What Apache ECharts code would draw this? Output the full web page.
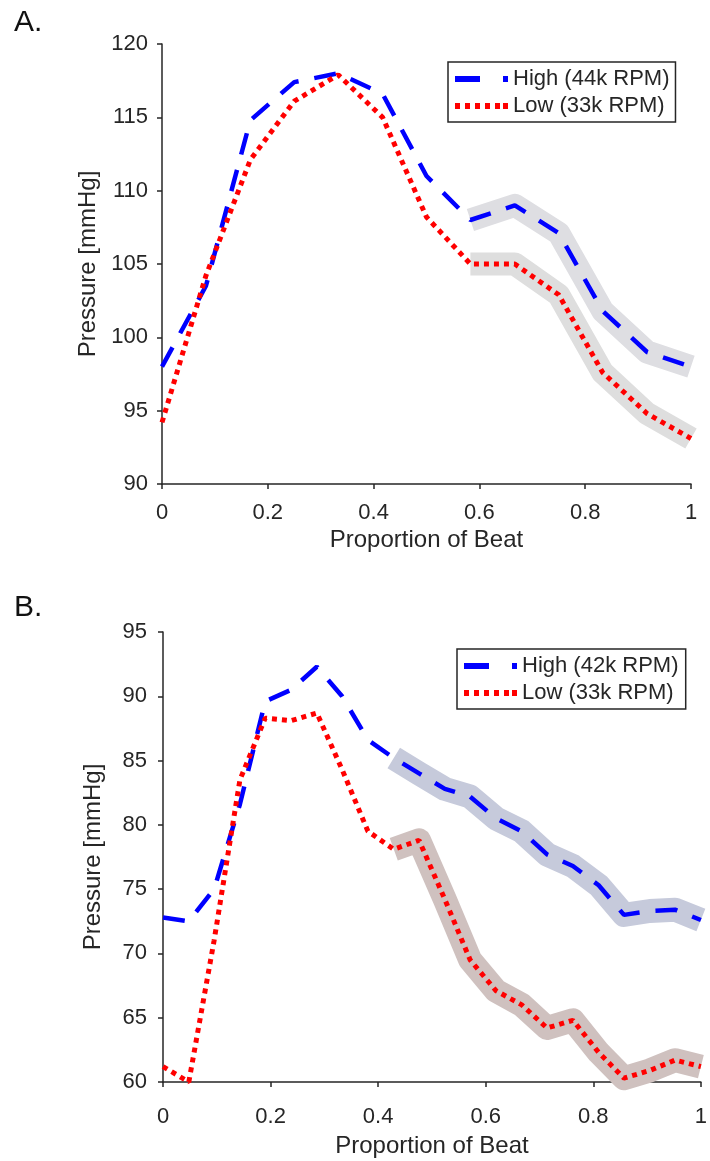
<!DOCTYPE html>
<html>
<head>
<meta charset="utf-8">
<script src="https://cdn.jsdelivr.net/npm/echarts@6/dist/echarts.min.js"></script>
<style>
  html, body { margin: 0; padding: 0; background: #fff; }
  #chart { width: 710px; height: 1161px; }
</style>
</head>
<body>
<div id="chart"></div>
<script>
// panel A: 13 samples over the beat
var beatA = [0, 0.083, 0.167, 0.25, 0.333, 0.417, 0.5, 0.583, 0.667, 0.75, 0.833, 0.917, 1];
var highA = [98.0, 103.5, 114.8, 117.4, 118.0, 116.6, 111.0, 108.0, 109.0, 107.1, 101.8, 99.0, 98.0];
var lowA = [94.2, 104.2, 112.1, 116.1, 117.9, 115.0, 108.2, 105.0, 105.0, 102.9, 97.6, 94.8, 93.1];
var bandStartA = 7;

// panel B: 22 samples over the beat
var beatB = [0, 0.048, 0.095, 0.143, 0.19, 0.238, 0.286, 0.333, 0.381, 0.429, 0.476,
             0.524, 0.571, 0.619, 0.667, 0.714, 0.762, 0.81, 0.857, 0.905, 0.952, 1];
var highB = [72.8, 72.5, 75.0, 81.6, 89.6, 90.5, 92.3, 90.0, 86.6, 85.2, 84.0,
             82.8, 82.2, 80.5, 79.5, 77.7, 76.8, 75.3, 73.0, 73.3, 73.4, 72.6];
var lowB = [61.2, 60.0, 71.0, 83.5, 88.3, 88.1, 88.7, 84.3, 79.5, 78.1, 78.8,
            74.2, 69.5, 67.1, 66.0, 64.2, 64.8, 62.3, 60.3, 60.9, 61.7, 61.2];
var bandStartB = 9;

var xTicks = [0, 0.2, 0.4, 0.6, 0.8, 1];

function pairs(xs, ys, from) {
    var out = [];
    for (var i = from || 0; i < xs.length; i++) {
        out.push([xs[i], ys[i]]);
    }
    return out;
}

var font = "'Liberation Sans', Arial, sans-serif";
var ink = '#262626';

function xAxisOf(idx, gap, margin) {
    return {
        type: 'value', gridIndex: idx, min: 0, max: 1, interval: 0.2,
        name: 'Proportion of Beat', nameLocation: 'middle', nameGap: gap,
        nameTextStyle: { fontFamily: font, fontSize: 24, color: ink },
        axisLine: { lineStyle: { color: ink, width: 1.5 } },
        axisTick: { length: 5, lineStyle: { color: ink, width: 1.5 } },
        axisLabel: {
            fontFamily: font, fontSize: 22, color: ink, margin: margin,
            formatter: function (v) { return xTicks.indexOf(v) >= 0 ? String(v) : ''; }
        },
        splitLine: { show: false }
    };
}

function yAxisOf(idx, min, max, margin) {
    return {
        type: 'value', gridIndex: idx, min: min, max: max, interval: 5,
        name: 'Pressure [mmHg]', nameLocation: 'middle', nameGap: 58, nameRotate: 90,
        nameTextStyle: { fontFamily: font, fontSize: 24, color: ink },
        axisLine: { show: true, lineStyle: { color: ink, width: 1.5 } },
        axisTick: { show: true, length: 5, lineStyle: { color: ink, width: 1.5 } },
        axisLabel: { fontFamily: font, fontSize: 22, color: ink, margin: margin },
        splitLine: { show: false }
    };
}

function band(name, idx, data, color, width) {
    return {
        name: name, type: 'line', xAxisIndex: idx, yAxisIndex: idx,
        data: data, symbol: 'none', clip: false, z: 1, silent: true,
        lineStyle: { color: color, width: width, cap: 'butt', join: 'round' }
    };
}

function highLine(name, idx, data) {
    return {
        name: name, type: 'line', xAxisIndex: idx, yAxisIndex: idx,
        data: data, symbol: 'none', z: 3,
        lineStyle: { color: '#0000ff', width: 4.5, type: [22, 16], cap: 'butt' }
    };
}

function lowLine(name, idx, data) {
    return {
        name: name, type: 'line', xAxisIndex: idx, yAxisIndex: idx,
        data: data, symbol: 'none', z: 3,
        lineStyle: { color: '#ff0000', width: 5, type: [5, 5], cap: 'butt' }
    };
}

function legendOf(idx, left, top, names) {
    return {
        left: left, top: top, orient: 'vertical',
        backgroundColor: '#fff', borderColor: ink, borderWidth: 1.5,
        padding: [6, 6, 5, 7], itemGap: 5, itemWidth: 53, itemHeight: 6,
        textStyle: { fontFamily: font, fontSize: 22, color: ink },
        data: [
            { name: names[0], icon: 'path://M0,0H25V6H0Z M48,0H53V6H48Z', itemStyle: { color: '#0000ff' } },
            { name: names[1], icon: 'path://M0,0H5V6H0Z M10,0H15V6H10Z M20,0H25V6H20Z M30,0H35V6H30Z M40,0H45V6H40Z M48,0H53V6H48Z', itemStyle: { color: '#ff0000' } }
        ],
        selectedMode: false
    };
}

var chart = echarts.init(document.getElementById('chart'), null, { renderer: 'canvas' });

var option = {
    animation: false,
    backgroundColor: '#fff',
    grid: [
        { left: 162, top: 44, width: 529, height: 440 },
        { left: 163, top: 632, width: 542, height: 450 }
    ],
    xAxis: [xAxisOf(0, 44, 18), xAxisOf(1, 52, 24)],
    yAxis: [yAxisOf(0, 90, 120, 14), yAxisOf(1, 60, 95, 16)],
    legend: [
        legendOf(0, 448, 62, ['High (44k RPM)', 'Low (33k RPM)']),
        legendOf(1, 457, 649, ['High (42k RPM)', 'Low (33k RPM) '])
    ],
    graphic: [
        { type: 'text', left: 14, top: 8, style: { text: 'A.', font: '30px ' + font, fill: '#111' } },
        { type: 'text', left: 14, top: 593, style: { text: 'B.', font: '30px ' + font, fill: '#111' } }
    ],
    series: [
        band('bandHighA', 0, pairs(beatA, highA, bandStartA), '#dedee2', 23),
        band('bandLowA', 0, pairs(beatA, lowA, bandStartA), '#dedede', 23),
        highLine('High (44k RPM)', 0, pairs(beatA, highA)),
        lowLine('Low (33k RPM)', 0, pairs(beatA, lowA)),
        band('bandHighB', 1, pairs(beatB, highB, bandStartB), '#c6cadb', 24),
        band('bandLowB', 1, pairs(beatB, lowB, bandStartB), '#cfc1bf', 24),
        highLine('High (42k RPM)', 1, pairs(beatB, highB)),
        lowLine('Low (33k RPM) ', 1, pairs(beatB, lowB))
    ]
};

chart.setOption(option);
</script>
</body>
</html>
